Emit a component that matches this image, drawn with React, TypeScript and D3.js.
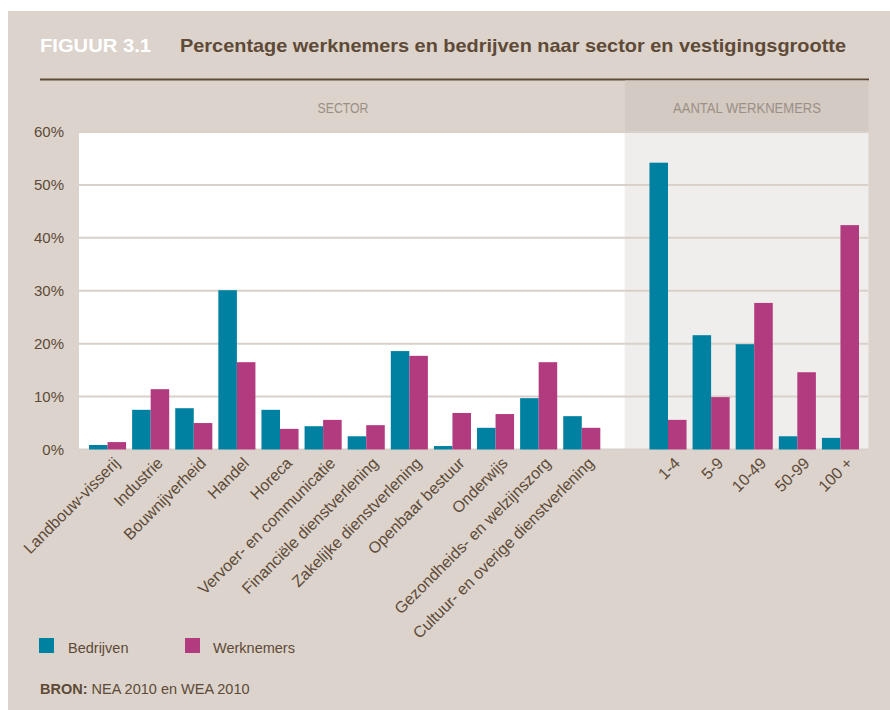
import React from "react";
import * as d3 from "d3";

const sectors = [
  "Landbouw-visserij",
  "Industrie",
  "Bouwnijverheid",
  "Handel",
  "Horeca",
  "Vervoer- en communicatie",
  "Financiële dienstverlening",
  "Zakelijke dienstverlening",
  "Openbaar bestuur",
  "Onderwijs",
  "Gezondheids- en welzijnszorg",
  "Cultuur- en overige dienstverlening",
];
const sizes = ["1-4", "5-9", "10-49", "50-99", "100 +"];
const bedrijvenSector = [0.85, 7.5, 7.8, 30.1, 7.5, 4.4, 2.5, 18.6, 0.65, 4.1, 9.7, 6.3];
const werknemersSector = [1.4, 11.4, 5.0, 16.5, 3.9, 5.6, 4.6, 17.7, 6.9, 6.7, 16.5, 4.1];
const bedrijvenSize = [54.2, 21.6, 19.9, 2.5, 2.2];
const werknemersSize = [5.6, 9.9, 27.7, 14.6, 42.4];
const yTicks = [0, 10, 20, 30, 40, 50, 60];

const TEAL = "#0081a1";
const MAGENTA = "#b23a7e";
const BEIGE = "#dbd3cc";
const HEADER_DARK = "#d3cac4";
const LIGHT = "#f0eeec";
const GRID = "#d8d0c9";
const BROWN = "#5e4a36";
const SUBTLE = "#9c8f83";
const FONT = "'Liberation Sans', Arial, sans-serif";
const NARROW = "'Liberation Sans Narrow', 'Liberation Sans', Arial, sans-serif";

export default function App() {
  const GAP = "__gap__";
  const domain = [...sectors, GAP, ...sizes];
  const x = d3.scaleBand<string>().domain(domain).range([86, 862]).paddingInner(0.14).paddingOuter(0.07);
  const y = d3.scaleLinear().domain([0, 60]).range([449.5, 132]);
  const bw = x.bandwidth();
  const half = bw / 2;

  const rows = [
    ...sectors.map((c, i) => ({ c, b: bedrijvenSector[i], w: werknemersSector[i] })),
    ...sizes.map((c, i) => ({ c, b: bedrijvenSize[i], w: werknemersSize[i] })),
  ];

  const plotLeft = 79;
  const plotRight = 868.5;
  const splitX = (x(GAP) as number) + bw / 2;

  return (
    <svg
      width={890}
      height={710}
      style={{ position: "absolute", left: 0, top: 0, display: "block" }}
    >
      <rect x={8} y={11} width={882} height={699} fill={BEIGE} />
      {/* title */}
      <text x={40} y={52} fill="#ffffff" fontFamily={NARROW} fontWeight="bold" fontSize={19} textLength={111} lengthAdjust="spacingAndGlyphs">
        FIGUUR 3.1
      </text>
      <text x={180} y={52} fill={BROWN} fontFamily={NARROW} fontWeight="bold" fontSize={19} textLength={666} lengthAdjust="spacingAndGlyphs">
        Percentage werknemers en bedrijven naar sector en vestigingsgrootte
      </text>
      <line x1={40} x2={869} y1={79.5} y2={79.5} stroke={BROWN} strokeWidth={2} />
      {/* header bands */}
      <rect x={splitX} y={80.5} width={plotRight - splitX} height={51.5} fill={HEADER_DARK} />
      <text x={343} y={113} textAnchor="middle" fill={SUBTLE} fontFamily={NARROW} fontSize={14} textLength={51} lengthAdjust="spacingAndGlyphs">
        SECTOR
      </text>
      <text x={747} y={113} textAnchor="middle" fill={SUBTLE} fontFamily={NARROW} fontSize={14} textLength={148} lengthAdjust="spacingAndGlyphs">
        AANTAL WERKNEMERS
      </text>
      {/* plot backgrounds */}
      <rect x={plotLeft} y={132} width={splitX - plotLeft} height={449.5 - 132} fill="#ffffff" />
      <rect x={splitX} y={132} width={plotRight - splitX} height={449.5 - 132} fill={LIGHT} />
      {/* gridlines */}
      {yTicks.map((t) => (
        <line key={t} x1={plotLeft} x2={plotRight} y1={y(t)} y2={y(t)} stroke={GRID} strokeWidth={2} />
      ))}
      {/* y tick labels */}
      {yTicks.map((t) => (
        <text key={"l" + t} x={64} y={y(t)} dy="0.36em" textAnchor="end" fill={BROWN} fontFamily={FONT} fontSize={15}>
          {t}%
        </text>
      ))}
      {/* bars */}
      {rows.map((r) => {
        const x0 = x(r.c) as number;
        return (
          <g key={r.c}>
            <rect x={x0} y={y(r.b)} width={half} height={y(0) - y(r.b)} fill={TEAL} />
            <rect x={x0 + half} y={y(r.w)} width={half} height={y(0) - y(r.w)} fill={MAGENTA} />
          </g>
        );
      })}
      {/* x labels */}
      {rows.map((r) => {
        const cx = (x(r.c) as number) + half;
        return (
          <text
            key={"x" + r.c}
            transform={`translate(${cx + 5},${456}) rotate(-45)`}
            textAnchor="end"
            dy="0.72em"
            fill={BROWN}
            fontFamily={FONT}
            fontSize={16}
          >
            {r.c}
          </text>
        );
      })}
      {/* legend */}
      <rect x={39} y={638} width={15} height={15} fill={TEAL} />
      <text x={68} y={653} fill={BROWN} fontFamily={FONT} fontSize={14.5}>
        Bedrijven
      </text>
      <rect x={185} y={638} width={15} height={15} fill={MAGENTA} />
      <text x={213} y={653} fill={BROWN} fontFamily={FONT} fontSize={14.5}>
        Werknemers
      </text>
      {/* source */}
      <text x={40} y={694} fill={BROWN} fontFamily={FONT} fontSize={14.5}>
        <tspan fontWeight="bold">BRON:</tspan>
        <tspan> NEA 2010 en WEA 2010</tspan>
      </text>
    </svg>
  );
}
